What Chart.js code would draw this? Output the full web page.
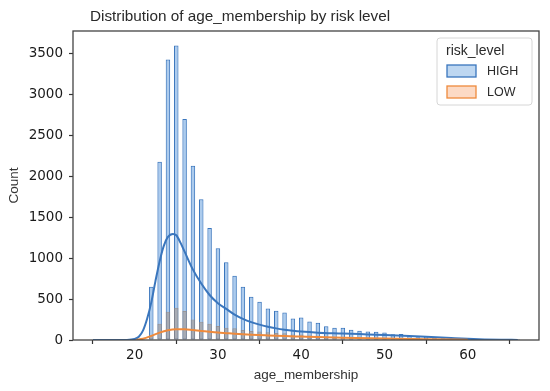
<!DOCTYPE html>
<html><head><meta charset="utf-8">
<script src="https://cdn.jsdelivr.net/npm/chart.js@4.4.0/dist/chart.umd.min.js"></script>
<style>html,body{margin:0;padding:0;background:#fff}#wrap{width:550px;height:391px}</style>
</head><body><div id="wrap"><canvas id="c" width="550" height="391"></canvas></div>
<script>
const chartTitle = 'Distribution of age_membership by risk level';
const xLabel = 'age_membership';
const yLabel = 'Count';
const legendTitle = 'risk_level';
const riskLevels = ['HIGH', 'LOW'];

// integer ages (each age falls in its own histogram bin)
const ages = [21,22,23,24,25,26,27,28,29,30,31,32,33,34,35,36,37,38,39,40,41,42,43,44,45,46,47,48,49,50,51,52,53,54,55,56,57,58,59,60,61,62,63,64,65,66];
const highCounts = [10,650,2180,3430,3600,2700,2130,1720,1370,1120,950,786,652,530,469,385,359,335,263,275,225,212,168,150,150,125,114,103,100,92,70,72,53,35,48,38,22,15,10,8,5,4,3,2,1,1];
const lowCounts  = [8,55,200,345,395,355,250,222,200,171,150,143,122,110,105,94,85,82,68,66,55,52,42,38,36,30,27,24,22,20,16,15,12,8,9,7,5,4,3,2,1,1,0,0,0,0];

// KDE curves (scaled to counts)
const kdeHighX = [15,17,19,20,20.5,21,21.5,22,22.5,23,23.5,24,24.6,25,25.5,26,27,28,29,30,31,32,33,34,35,36,37,38,39,40,42,45,48,50,53,55,58,60,62,64,66];
const kdeHighY = [0,0,1,12,40,115,260,460,720,960,1150,1260,1296,1280,1190,1080,860,690,550,450,380,310,258,218,188,162,142,126,113,103,90,80,68,60,48,40,24,14,7,3,1];
const kdeLowX = [20.2,21,22,23,24,25,26,27,28,29,30,31,32,34,36,38,40,42,45,50,55,60];
const kdeLowY = [3,16,50,90,118,131,132,122,110,100,91,84,77,65,56,48,42,36,28,18,10,4];

const xTicks = [20,30,40,50,60];
const yTicks = [0,500,1000,1500,2000,2500,3000,3500];

const BLUE = '#3a76bd';
const ORANGE = '#ee8a3c';

const toXY = (xs, ys) => xs.map((x, i) => ({x: x, y: ys[i]}));

const titlePlugin = {
  id: 'mplTitle',
  afterDraw(chart) {
    const ctx = chart.ctx;
    ctx.save();
    ctx.font = '15.3px "Liberation Sans", Arial, sans-serif';
    ctx.fillStyle = '#2a2a2a';
    ctx.textBaseline = 'middle';
    ctx.textAlign = 'left';
    ctx.fillText(chartTitle, 90, 17);
    ctx.restore();
  }
};

const framePlugin = {
  id: 'frame',
  afterDatasetsDraw(chart) {
    const a = chart.chartArea, ctx = chart.ctx;
    ctx.save();
    ctx.strokeStyle = '#444';
    ctx.lineWidth = 1.3;
    ctx.strokeRect(a.left, a.top, a.right - a.left, a.bottom - a.top);
    ctx.restore();
  }
};

const legendPlugin = {
  id: 'sbLegend',
  afterDraw(chart) {
    const ctx = chart.ctx;
    const a = chart.chartArea;
    const bx = a.right - 102, by = a.top + 7, bw = 95, bh = 67;
    ctx.save();
    ctx.beginPath();
    ctx.roundRect(bx, by, bw, bh, 3);
    ctx.fillStyle = 'rgba(255,255,255,0.85)';
    ctx.fill();
    ctx.strokeStyle = '#d6d6d6';
    ctx.lineWidth = 1;
    ctx.stroke();
    ctx.fillStyle = '#2a2a2a';
    ctx.textBaseline = 'middle';
    ctx.textAlign = 'left';
    ctx.font = '14px "Liberation Sans", Arial, sans-serif';
    ctx.fillText(legendTitle, bx + 9, by + 13);
    ctx.font = '12.5px "Liberation Sans", Arial, sans-serif';
    const sets = chart.data.datasets.filter(d => d.type === 'bar');
    sets.forEach((d, i) => {
      const y = by + 33 + i * 21;
      ctx.fillStyle = '#fff';
      ctx.fillRect(bx + 10, y - 6, 29, 12);
      ctx.fillStyle = d.legendFill;
      ctx.strokeStyle = d.legendEdge;
      ctx.lineWidth = 1.3;
      ctx.fillRect(bx + 10, y - 6, 29, 12);
      ctx.strokeRect(bx + 10, y - 6, 29, 12);
      ctx.fillStyle = '#2a2a2a';
      ctx.fillText(d.label, bx + 50, y + 1);
    });
    ctx.restore();
  }
};

new Chart(document.getElementById('c'), {
  data: {
    datasets: [
      {
        type: 'bar', label: riskLevels[0], data: toXY(ages, highCounts),
        backgroundColor: 'rgba(70,140,215,0.45)', borderColor: BLUE, borderWidth: 1,
        legendFill: 'rgba(70,140,215,0.35)', legendEdge: BLUE,
        barPercentage: 0.54, categoryPercentage: 1, grouped: false, order: 4, borderSkipped: false
      },
      {
        type: 'bar', label: riskLevels[1], data: toXY(ages, lowCounts),
        backgroundColor: 'rgba(165,150,140,0.6)', borderColor: 'rgba(150,135,125,0.75)', borderWidth: 1,
        legendFill: 'rgba(245,150,90,0.35)', legendEdge: ORANGE,
        barPercentage: 0.54, categoryPercentage: 1, grouped: false, order: 3, borderSkipped: false
      },
      {
        type: 'line', label: 'kde ' + riskLevels[0], data: toXY(kdeHighX, kdeHighY),
        borderColor: BLUE, borderWidth: 2, pointRadius: 0, fill: false,
        cubicInterpolationMode: 'monotone', order: 2
      },
      {
        type: 'line', label: 'kde ' + riskLevels[1], data: toXY(kdeLowX, kdeLowY),
        borderColor: ORANGE, borderWidth: 2, pointRadius: 0, fill: false,
        cubicInterpolationMode: 'monotone', order: 1
      }
    ]
  },
  options: {
    responsive: false,
    animation: false,
    devicePixelRatio: 1,
    layout: { padding: { top: 31, right: 11, left: 0, bottom: 8 } },
    plugins: { legend: { display: false }, tooltip: { enabled: false }, title: { display: false } },
    scales: {
      x: {
        type: 'linear', min: 12.6, max: 68.55, offset: false,
        afterBuildTicks: s => { s.ticks = xTicks.map(v => ({ value: v })); },
        afterFit: s => { s.height = 43; },
        grid: { display: true, drawOnChartArea: false, drawTicks: true, tickLength: 4, tickColor: '#333', tickWidth: 1.2 },
        border: { display: false },
        ticks: { color: '#1a1a1a', padding: 3, maxRotation: 0, callback: v => String(v), font: { family: '"DejaVu Sans", sans-serif', size: 13.5 } },
        title: { display: true, text: xLabel, color: '#333', padding: { top: 3, bottom: 0 }, font: { family: '"Liberation Sans", Arial, sans-serif', size: 13.5 } }
      },
      y: {
        type: 'linear', min: 0, max: 3777,
        afterBuildTicks: s => { s.ticks = yTicks.map(v => ({ value: v })); },
        afterFit: s => { s.width = 73; },
        grid: { display: true, drawOnChartArea: false, drawTicks: true, tickLength: 4, tickColor: '#333', tickWidth: 1.2 },
        border: { display: false },
        ticks: { color: '#1a1a1a', padding: 6, callback: v => String(v), font: { family: '"DejaVu Sans", sans-serif', size: 13.5 } },
        title: { display: true, text: yLabel, color: '#333', padding: { top: 6, bottom: 0 }, font: { family: '"Liberation Sans", Arial, sans-serif', size: 13.5 } }
      }
    }
  },
  plugins: [titlePlugin, framePlugin, legendPlugin]
});
</script>
</body></html>
